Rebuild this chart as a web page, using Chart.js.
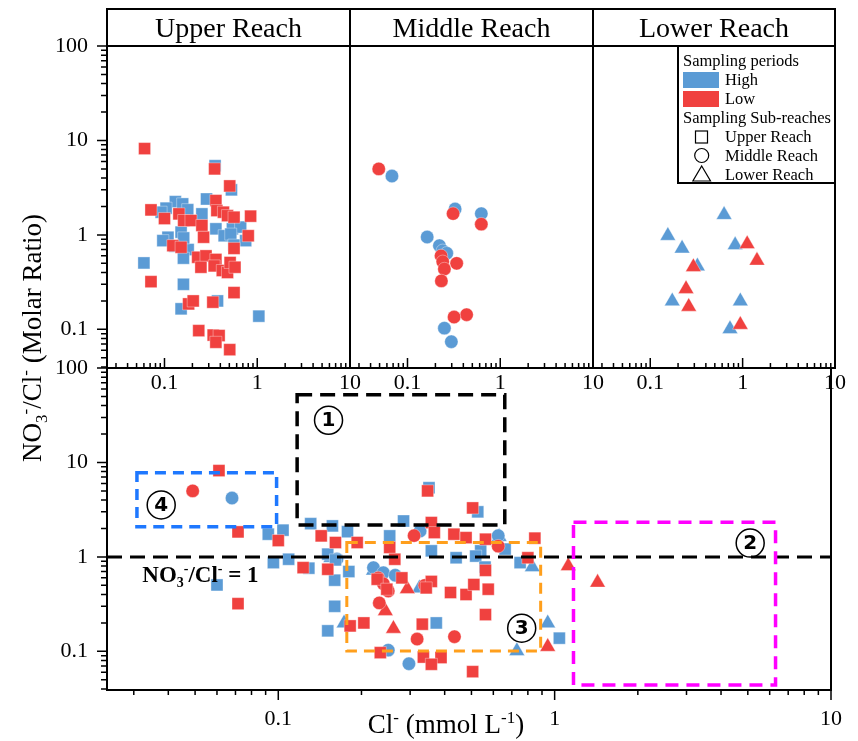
<!DOCTYPE html>
<html>
<head>
<meta charset="utf-8">
<title>NO3-/Cl- vs Cl-</title>
<script src="https://cdn.jsdelivr.net/npm/chart.js@4.4.1/dist/chart.umd.min.js"></script>
<style>
  html, body { margin: 0; padding: 0; background: #fff; }
  #wrap { position: relative; width: 858px; height: 741px; }
  #wrap canvas { position: absolute; left: 0; top: 0; }
</style>
</head>
<body>
<div id="wrap">
  <canvas id="upperChart" width="858" height="741"></canvas>
  <canvas id="middleChart" width="858" height="741"></canvas>
  <canvas id="lowerChart" width="858" height="741"></canvas>
  <canvas id="allChart" width="858" height="741"></canvas>
</div>
<script>
// ===== DATA (Cl- in mmol/L, NO3-/Cl- molar ratio) =====
// Upper reach - squares
const upperHighCl    = [0.351, 0.527, 0.284, 0.131, 0.157, 0.104, 0.092, 0.178, 0.253, 0.358, 0.54, 0.662, 0.44, 0.518, 0.75, 0.109, 0.096, 0.151, 0.18, 0.06, 0.16, 0.16, 0.151, 0.373, 1.04, 0.56, 0.129, 0.161];
const upperHighRatio = [5.4, 3.0, 2.4, 2.25, 2.13, 1.92, 1.74, 1.85, 1.67, 1.16, 1.16, 1.21, 0.98, 1.02, 0.87, 0.945, 0.87, 1.07, 0.70, 0.505, 0.567, 0.30, 0.165, 0.20, 0.138, 0.78, 0.76, 0.93];
const upperLowCl     = [0.061, 0.347, 0.505, 0.0715, 0.1, 0.143, 0.161, 0.193, 0.253, 0.264, 0.358, 0.367, 0.432, 0.478, 0.562, 0.848, 0.80, 0.562, 0.123, 0.151, 0.228, 0.28, 0.358, 0.247, 0.343, 0.42, 0.478, 0.51, 0.575, 0.0715, 0.562, 0.182, 0.204, 0.332, 0.234, 0.335, 0.388, 0.358, 0.505];
const upperLowRatio  = [8.2, 5.0, 3.3, 1.84, 1.49, 1.67, 1.42, 1.42, 1.26, 0.945, 2.31, 1.81, 1.74, 1.6, 1.54, 1.58, 0.98, 0.72, 0.77, 0.74, 0.58, 0.60, 0.55, 0.455, 0.47, 0.42, 0.40, 0.51, 0.455, 0.32, 0.245, 0.186, 0.20, 0.194, 0.097, 0.087, 0.086, 0.073, 0.061];
// Middle reach - circles
const middleHighCl    = [0.068, 0.326, 0.625, 0.163, 0.221, 0.24, 0.265, 0.25, 0.297];
const middleHighRatio = [4.2, 1.88, 1.68, 0.95, 0.77, 0.68, 0.64, 0.103, 0.074];
const middleLowCl     = [0.049, 0.31, 0.625, 0.23, 0.24, 0.339, 0.25, 0.232, 0.434, 0.318];
const middleLowRatio  = [5.0, 1.68, 1.30, 0.60, 0.52, 0.50, 0.436, 0.326, 0.143, 0.135];
// Lower reach - triangles
const lowerHighCl    = [0.63, 0.155, 0.221, 0.83, 0.324, 0.173, 0.944, 0.73];
const lowerHighRatio = [1.63, 0.98, 0.72, 0.78, 0.466, 0.199, 0.199, 0.101];
const lowerLowCl     = [1.12, 1.43, 0.293, 0.244, 0.261, 0.944];
const lowerLowRatio  = [0.80, 0.535, 0.458, 0.268, 0.174, 0.112];

// Source zones in the combined panel (data units)
const zoneNames      = ['1', '2', '3', '4'];
const zoneClMin      = [0.117, 1.17, 0.177, 0.0308];
const zoneClMax      = [0.66, 6.3, 0.89, 0.0986];
const zoneRatioMin   = [2.18, 0.044, 0.101, 2.09];
const zoneRatioMax   = [52, 2.33, 1.42, 7.8];
const zoneLabelCl    = [0.152, 5.1, 0.76, 0.0377];
const zoneLabelRatio = [28, 1.4, 0.176, 3.55];

const xTickLabels = ['0.1', '1', '10'];
const yTickLabels = ['0.1', '1', '10', '100'];

// ===== STYLE =====
const W = 858, H = 741;
const X_MIN = 0.024, X_MAX = 10, Y_MIN = 0.039, Y_MAX = 100;
const BLUE = '#5B9BD5', RED = '#F0413F';
const SERIF = '"Liberation Serif", "Times New Roman", serif';
const zoneStyles = [
  { color: '#000000', width: 3.5, dash: [15, 8] },
  { color: '#FF00FF', width: 3.5, dash: [13, 8] },
  { color: '#FF9F1C', width: 3,   dash: [11, 7] },
  { color: '#1E78FF', width: 3.5, dash: [11, 7] }
];

const xy = (cl, r) => cl.map((v, i) => ({ x: v, y: r[i] }));

function powLabel(list) {
  return v => {
    const e = Math.round(Math.log10(v));
    if (Math.abs(Math.log10(v) - e) > 1e-6) return '';
    const s = e >= 0 ? String(Math.pow(10, e)) : Math.pow(10, e).toFixed(-e);
    return list.includes(s) ? s : '';
  };
}

function ds(data, color, style, radius) {
  return { data, pointStyle: style, pointRadius: radius, backgroundColor: color,
    borderColor: 'rgba(255,255,255,0.6)', borderWidth: 0.6 };
}

function richText(ctx, parts, x, y, size, weight, align) {
  const fontFor = k => `${weight} ${k ? Math.round(size * 0.62) : size}px ${SERIF}`;
  let total = 0;
  parts.forEach(([t, k]) => { ctx.font = fontFor(k); total += ctx.measureText(t).width; });
  let cx = align === 'center' ? x - total / 2 : x;
  ctx.textAlign = 'left'; ctx.textBaseline = 'alphabetic';
  parts.forEach(([t, k]) => {
    ctx.font = fontFor(k);
    const dy = k === 'sup' ? -size * 0.38 : k === 'sub' ? size * 0.22 : 0;
    ctx.fillText(t, cx, y + dy);
    cx += ctx.measureText(t).width;
  });
}

function decadeTicks(min, max) {
  const vals = [];
  for (let e = Math.floor(Math.log10(min)); e <= Math.ceil(Math.log10(max)); e++)
    for (let k = 1; k < 10; k++) {
      const v = k * Math.pow(10, e);
      if (v >= min * 0.999 && v <= max * 1.001) vals.push({ v, major: k === 1 });
    }
  return vals;
}

// ===== PLUGINS =====
const tickMarks = {
  id: 'tickMarks',
  afterDraw(chart, args, o) {
    const { ctx, chartArea: a, scales } = chart;
    ctx.save(); ctx.strokeStyle = '#000'; ctx.lineWidth = 1.5;
    ctx.beginPath();
    if (o.x) {
      const s = scales.x, dir = o.x === 'in' ? -1 : 1;
      decadeTicks(s.min, s.max).forEach(t => {
        const p = s.getPixelForValue(t.v), len = t.major ? 10 : 5;
        ctx.moveTo(p, a.bottom); ctx.lineTo(p, a.bottom + dir * len);
      });
    }
    if (o.y) {
      const s = scales.y;
      decadeTicks(s.min, s.max).forEach(t => {
        const p = s.getPixelForValue(t.v), len = t.major ? 10 : 6;
        ctx.moveTo(a.left, p); ctx.lineTo(a.left - len, p);
      });
    }
    ctx.stroke(); ctx.restore();
  }
};

const frame = {
  id: 'frame',
  afterDraw(chart, args, o) {
    const { ctx, chartArea: a } = chart;
    ctx.save(); ctx.strokeStyle = '#000'; ctx.lineWidth = 2;
    const top = o.title ? o.boxTop : a.top;
    ctx.strokeRect(a.left, top, a.right - a.left, a.bottom - top);
    if (o.title) {
      ctx.beginPath(); ctx.moveTo(a.left, a.top); ctx.lineTo(a.right, a.top); ctx.stroke();
      ctx.fillStyle = '#000'; ctx.font = `28px ${SERIF}`;
      ctx.textAlign = 'center'; ctx.textBaseline = 'alphabetic';
      ctx.fillText(o.title, (a.left + a.right) / 2, o.titleBase);
    }
    ctx.restore();
  }
};

const legendBox = {
  id: 'legendBox',
  afterDraw(chart) {
    const { ctx, chartArea: a } = chart;
    const L = 678, T = a.top, R = a.right, B = 183;
    ctx.save();
    ctx.fillStyle = '#fff'; ctx.fillRect(L, T, R - L, B - T);
    ctx.fillStyle = '#000'; ctx.font = `16.5px ${SERIF}`;
    ctx.textAlign = 'left'; ctx.textBaseline = 'alphabetic';
    ctx.fillText('Sampling periods', 683, 66, 118);
    ctx.fillStyle = BLUE; ctx.fillRect(683, 72, 36, 16);
    ctx.fillStyle = RED; ctx.fillRect(683, 91, 36, 16);
    ctx.fillStyle = '#000';
    ctx.fillText('High', 725, 85);
    ctx.fillText('Low', 725, 104);
    ctx.fillText('Sampling Sub-reaches', 683, 123, 148);
    ctx.fillText('Upper Reach', 725, 142, 105);
    ctx.fillText('Middle Reach', 725, 161, 105);
    ctx.fillText('Lower Reach', 725, 180, 105);
    ctx.strokeStyle = '#000'; ctx.lineWidth = 2; ctx.strokeRect(L, T, R - L, B - T);
    ctx.lineWidth = 1.2;
    ctx.strokeRect(695.5, 131, 12, 12);
    ctx.beginPath(); ctx.arc(701.7, 155.5, 7, 0, Math.PI * 2); ctx.stroke();
    ctx.beginPath(); ctx.moveTo(701.7, 166); ctx.lineTo(710.5, 181); ctx.lineTo(692.9, 181); ctx.closePath(); ctx.stroke();
    ctx.restore();
  }
};

const zones = {
  id: 'zones',
  afterDatasetsDraw(chart) {
    const { ctx, chartArea: a, scales: { x, y } } = chart;
    ctx.save();
    // NO3-/Cl- = 1 reference line
    ctx.strokeStyle = '#000'; ctx.lineWidth = 3; ctx.setLineDash([15, 8]);
    const y1 = y.getPixelForValue(1);
    ctx.beginPath(); ctx.moveTo(a.left, y1); ctx.lineTo(a.right, y1); ctx.stroke();
    zoneNames.forEach((n, i) => {
      const st = zoneStyles[i];
      ctx.strokeStyle = st.color; ctx.lineWidth = st.width; ctx.setLineDash(st.dash);
      const x0 = x.getPixelForValue(zoneClMin[i]), x1 = x.getPixelForValue(zoneClMax[i]);
      const yt = y.getPixelForValue(zoneRatioMax[i]), yb = y.getPixelForValue(zoneRatioMin[i]);
      ctx.strokeRect(x0, yt, x1 - x0, yb - yt);
    });
    ctx.setLineDash([]);
    zoneNames.forEach((n, i) => {
      const cx = x.getPixelForValue(zoneLabelCl[i]), cy = y.getPixelForValue(zoneLabelRatio[i]);
      ctx.strokeStyle = '#000'; ctx.lineWidth = 1.5;
      ctx.beginPath(); ctx.arc(cx, cy, 14, 0, Math.PI * 2); ctx.stroke();
      ctx.fillStyle = '#000'; ctx.font = 'bold 20px "DejaVu Sans", sans-serif';
      ctx.textAlign = 'center'; ctx.textBaseline = 'middle';
      ctx.fillText(n, cx, cy + 1);
    });
    ctx.fillStyle = '#000';
    richText(ctx, [['NO', ''], ['3', 'sub'], ['-', 'sup'], ['/Cl', ''], ['-', 'sup'], [' = 1', '']],
      x.getPixelForValue(0.0322), y.getPixelForValue(0.544), 23, 'bold', 'left');
    ctx.restore();
  },
  afterDraw(chart) {
    const ctx = chart.ctx;
    ctx.save(); ctx.fillStyle = '#000';
    ctx.translate(41, 338); ctx.rotate(-Math.PI / 2);
    richText(ctx, [['NO', ''], ['3', 'sub'], ['-', 'sup'], ['/Cl', ''], ['-', 'sup'], [' (Molar Ratio)', '']], 0, 0, 27, 'normal', 'center');
    ctx.restore();
    ctx.save(); ctx.fillStyle = '#000';
    richText(ctx, [['Cl', ''], ['-', 'sup'], [' (mmol L', ''], ['-1', 'sup'], [')', '']], 446, 733, 27, 'normal', 'center');
    ctx.restore();
  }
};

// ===== CHART FACTORY =====
function scatterChart(id, area, datasets, opts) {
  const yW = opts.showY ? 60 : 0, xH = opts.xH || 30;
  return new Chart(document.getElementById(id), {
    type: 'scatter',
    data: { datasets },
    options: {
      responsive: false, animation: false, events: [],
      layout: { autoPadding: false, padding: { left: area.left - yW, right: W - area.right, top: area.top, bottom: H - area.bottom - xH } },
      plugins: {
        legend: { display: false }, tooltip: { enabled: false },
        tickMarks: { x: opts.xDir, y: opts.showY },
        frame: opts.frame || {}
      },
      scales: {
        x: {
          type: 'logarithmic', position: 'bottom', min: X_MIN, max: X_MAX,
          afterFit: s => { s.height = xH; },
          grid: { display: false, drawTicks: false }, border: { display: false },
          ticks: { autoSkip: false, maxRotation: 0, minRotation: 0, padding: opts.xPad, color: '#000',
            font: { family: SERIF, size: 22 }, callback: powLabel(xTickLabels) }
        },
        y: {
          type: 'logarithmic', position: 'left', display: opts.showY, min: Y_MIN, max: Y_MAX,
          afterFit: s => { s.width = yW; },
          grid: { display: false, drawTicks: false }, border: { display: false },
          ticks: { autoSkip: false, padding: 19, color: '#000',
            font: { family: SERIF, size: 22 }, callback: powLabel(yTickLabels) }
        }
      }
    },
    plugins: [tickMarks, frame].concat(opts.extra || [])
  });
}

scatterChart('upperChart', { left: 107, right: 350, top: 46, bottom: 368 }, [
  ds(xy(upperLowCl, upperLowRatio), RED, 'rect', 8.5),
  ds(xy(upperHighCl, upperHighRatio), BLUE, 'rect', 8.5)
], { showY: true, xDir: 'in', xPad: 2, frame: { title: 'Upper Reach', boxTop: 9, titleBase: 37 } });

scatterChart('middleChart', { left: 350, right: 593, top: 46, bottom: 368 }, [
  ds(xy(middleLowCl, middleLowRatio), RED, 'circle', 6.7),
  ds(xy(middleHighCl, middleHighRatio), BLUE, 'circle', 6.7)
], { showY: false, xDir: 'in', xPad: 2, frame: { title: 'Middle Reach', boxTop: 9, titleBase: 37 } });

scatterChart('lowerChart', { left: 593, right: 835, top: 46, bottom: 368 }, [
  ds(xy(lowerLowCl, lowerLowRatio), RED, 'triangle', 9),
  ds(xy(lowerHighCl, lowerHighRatio), BLUE, 'triangle', 9)
], { showY: false, xDir: 'in', xPad: 2, frame: { title: 'Lower Reach', boxTop: 9, titleBase: 37 }, extra: [legendBox] });

scatterChart('allChart', { left: 107, right: 835, top: 368, bottom: 690 }, [
  ds(xy(upperLowCl, upperLowRatio), RED, 'rect', 8.5),
  ds(xy(middleLowCl, middleLowRatio), RED, 'circle', 6.7),
  ds(xy(lowerLowCl, lowerLowRatio), RED, 'triangle', 9),
  ds(xy(upperHighCl, upperHighRatio), BLUE, 'rect', 8.5),
  ds(xy(middleHighCl, middleHighRatio), BLUE, 'circle', 6.7),
  ds(xy(lowerHighCl, lowerHighRatio), BLUE, 'triangle', 9)
], { showY: true, xDir: 'out', xPad: 16, xH: 50, extra: [zones] });
</script>
</body>
</html>
